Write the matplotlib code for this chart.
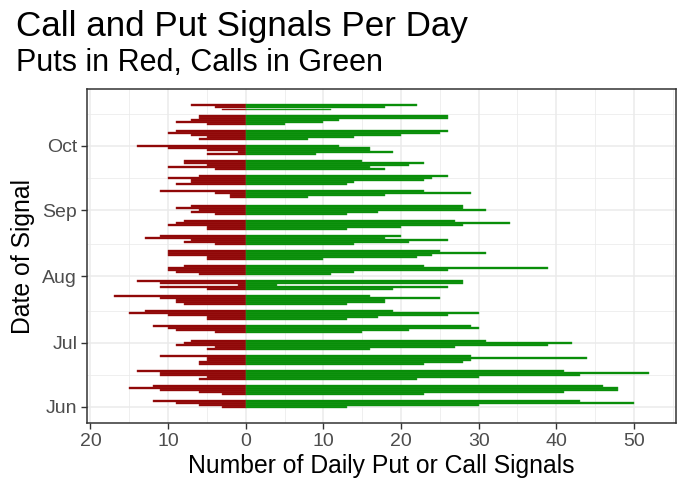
import matplotlib
matplotlib.use("Agg")
import matplotlib.pyplot as plt
import matplotlib.dates as mdates
import matplotlib.ticker as mticker
import numpy as np
import pandas as pd

plt.rcParams['font.family'] = ['Liberation Sans', 'DejaVu Sans']

# trading days Jun 1 - Oct 20 2021 (market holidays removed)
holidays = ['2021-07-05', '2021-09-06']
days = pd.bdate_range('2021-06-01', '2021-10-20')
days = days[~days.isin(pd.to_datetime(holidays))]

puts = [3, 6, 9, 12,
        3, 6, 11, 15, 12,
        6, 5, 11, 11, 14,
        6, 6, 5, 5, 11,
        5, 4, 9, 8, 7,
        4, 9, 10, 12,
        5, 5, 10, 15, 13,
        8, 9, 9, 11, 17,
        5, 11, 1, 11, 14,
        6, 9, 10, 10, 8,
        5, 5, 10, 10, 10,
        4, 8, 7, 13, 11,
        5, 5, 10, 9, 8,
        4, 7, 6, 9, 7,
        2, 2, 4, 11,
        9, 7, 7, 10, 6,
        4, 10, 5, 8, 8,
        5, 1, 5, 10, 14,
        6, 5, 7, 10, 9,
        5, 9, 7, 6, 6,
        3, 4, 7]

calls = [13, 30, 50, 43,
         23, 41, 48, 48, 46,
         22, 30, 43, 52, 41,
         23, 28, 29, 44, 29,
         16, 27, 39, 42, 31,
         15, 21, 30, 29,
         13, 17, 26, 30, 19,
         13, 18, 18, 25, 16,
         19, 26, 4, 28, 28,
         11, 14, 26, 39, 23,
         10, 22, 24, 31, 25,
         14, 21, 26, 18, 20,
         13, 20, 28, 34, 27,
         13, 17, 31, 28, 28,
         8, 18, 29, 23,
         13, 14, 23, 24, 26,
         18, 16, 21, 23, 15,
         9, 19, 16, 16, 12,
         8, 14, 20, 25, 26,
         5, 10, 12, 26, 26,
         11, 18, 22]

y = mdates.date2num(days.to_pydatetime())
puts = np.array(puts)
calls = np.array(calls)

fig = plt.figure(figsize=(6.9, 4.92), dpi=100)
ax = fig.add_axes([0.126, 0.140, 0.854, 0.679])

ax.barh(y, -puts, height=0.9, color='#8B0000', edgecolor='#A52A2A', linewidth=0.3)
ax.barh(y, calls, height=0.9, color='#008B00', edgecolor='#2E9E2E', linewidth=0.3)

# ggplot-style limits (5% expansion)
xmin, xmax = -puts.max(), calls.max()
xr = xmax - xmin
ax.set_xlim(xmin - 0.05 * xr, xmax + 0.05 * xr)
ylo, yhi = y.min() - 0.45, y.max() + 0.45
yr = yhi - ylo
ax.set_ylim(ylo - 0.05 * yr, yhi + 0.05 * yr)

ax.xaxis.set_major_locator(mticker.MultipleLocator(10))
ax.xaxis.set_minor_locator(mticker.MultipleLocator(5))
ax.xaxis.set_major_formatter(mticker.FuncFormatter(lambda v, p: f"{abs(v):.0f}"))
ax.yaxis.set_major_locator(mdates.MonthLocator())
ax.yaxis.set_minor_locator(mdates.MonthLocator(bymonthday=16))
ax.yaxis.set_major_formatter(mdates.DateFormatter('%b'))

ax.set_axisbelow(True)
ax.grid(which='major', color='#EBEBEB', linewidth=1.1)
ax.grid(which='minor', color='#EBEBEB', linewidth=0.55)
for s in ax.spines.values():
    s.set_color('#333333')
    s.set_linewidth(1.1)
ax.tick_params(which='major', length=4, width=1.0, color='#333333',
               labelsize=14, labelcolor='#4D4D4D', pad=3)
ax.tick_params(which='minor', length=0)

ax.set_xlabel('Number of Daily Put or Call Signals', fontsize=17.8, labelpad=3)
ax.set_ylabel('Date of Signal', fontsize=17.8, labelpad=5)

fig.text(0.023, 0.946, 'Call and Put Signals Per Day', fontsize=25.2, va='center')
fig.text(0.023, 0.872, 'Puts in Red, Calls in Green', fontsize=22, va='center')

fig.savefig('out.png', dpi=100)
